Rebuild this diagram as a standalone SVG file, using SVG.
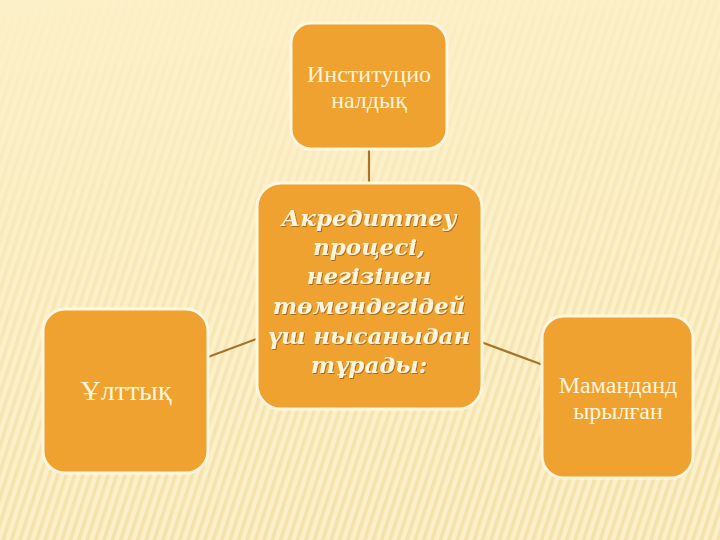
<svg xmlns="http://www.w3.org/2000/svg" width="720" height="540" viewBox="0 0 720 540">
  <defs>
    <style>
      .box { fill: #EFA22F; stroke: #FFF6DF; stroke-width: 3; }
      .lbl { font-family: "Liberation Serif", "DejaVu Serif", serif; font-size: 24px; fill: #FFF4DC; text-anchor: middle; }
      .main { font-family: "DejaVu Serif", "Liberation Serif", serif; font-size: 23px; font-weight: bold; font-style: italic; fill: #FFF4DC; text-anchor: middle; }
      .conn { stroke: #A8742C; stroke-width: 2.2; fill: none; }
    </style>
    <pattern id="stripes" width="8" height="8" patternUnits="userSpaceOnUse" patternTransform="rotate(18)">
      <rect width="3.5" height="8" fill="#EDD594"/>
    </pattern>
    <linearGradient id="fade" x1="0" y1="0" x2="0.15" y2="1">
      <stop offset="0" stop-color="#fff" stop-opacity="0"/>
      <stop offset="0.2" stop-color="#fff" stop-opacity="0.12"/>
      <stop offset="1" stop-color="#fff" stop-opacity="0.55"/>
    </linearGradient>
    <mask id="fadeMask">
      <rect width="720" height="540" fill="url(#fade)"/>
    </mask>
    <linearGradient id="topline" x1="0" y1="0" x2="1" y2="0">
      <stop offset="0" stop-color="#E8C46A" stop-opacity="0"/>
      <stop offset="0.15" stop-color="#E0B85A" stop-opacity="1"/>
      <stop offset="1" stop-color="#E0B85A" stop-opacity="1"/>
    </linearGradient>
    <filter id="shadow" x="-10%" y="-10%" width="120%" height="120%">
      <feDropShadow dx="1" dy="1" stdDeviation="0.6" flood-color="#7A4A10" flood-opacity="0.6"/>
    </filter>
  </defs>

  <rect width="720" height="540" fill="#FCF0C8"/>
  <rect width="720" height="540" fill="url(#stripes)" mask="url(#fadeMask)"/>
  <line x1="50" y1="82" x2="720" y2="82" stroke="url(#topline)" stroke-width="2"/>

  <g id="connectors">
    <line class="conn" x1="369" y1="149" x2="369" y2="184"/>
    <line class="conn" x1="208" y1="357" x2="259" y2="338"/>
    <line class="conn" x1="481" y1="342" x2="543" y2="365"/>
  </g>

  <g id="node-top">
    <rect class="box" x="291" y="23" width="156" height="126" rx="20"/>
    <text class="lbl" x="369" y="82">Институцио</text>
    <text class="lbl" x="369" y="108">налдық</text>
  </g>

  <g id="node-center">
    <rect class="box" x="257" y="183" width="225" height="226" rx="24"/>
    <g filter="url(#shadow)">
      <text class="main" x="369" y="226">Акредиттеу</text>
      <text class="main" x="369" y="255">процесі,</text>
      <text class="main" x="369" y="284">негізінен</text>
      <text class="main" x="369" y="314">төмендегідей</text>
      <text class="main" x="369" y="344">үш нысаныдан</text>
      <text class="main" x="369" y="373">тұрады:</text>
    </g>
  </g>

  <g id="node-left">
    <rect class="box" x="43" y="309" width="165" height="164" rx="22"/>
    <text class="lbl" x="126" y="400" style="font-size:28px">Ұлттық</text>
  </g>

  <g id="node-right">
    <rect class="box" x="542" y="316" width="151" height="162" rx="22"/>
    <text class="lbl" x="618" y="393">Маманданд</text>
    <text class="lbl" x="618" y="419">ырылған</text>
  </g>
</svg>
